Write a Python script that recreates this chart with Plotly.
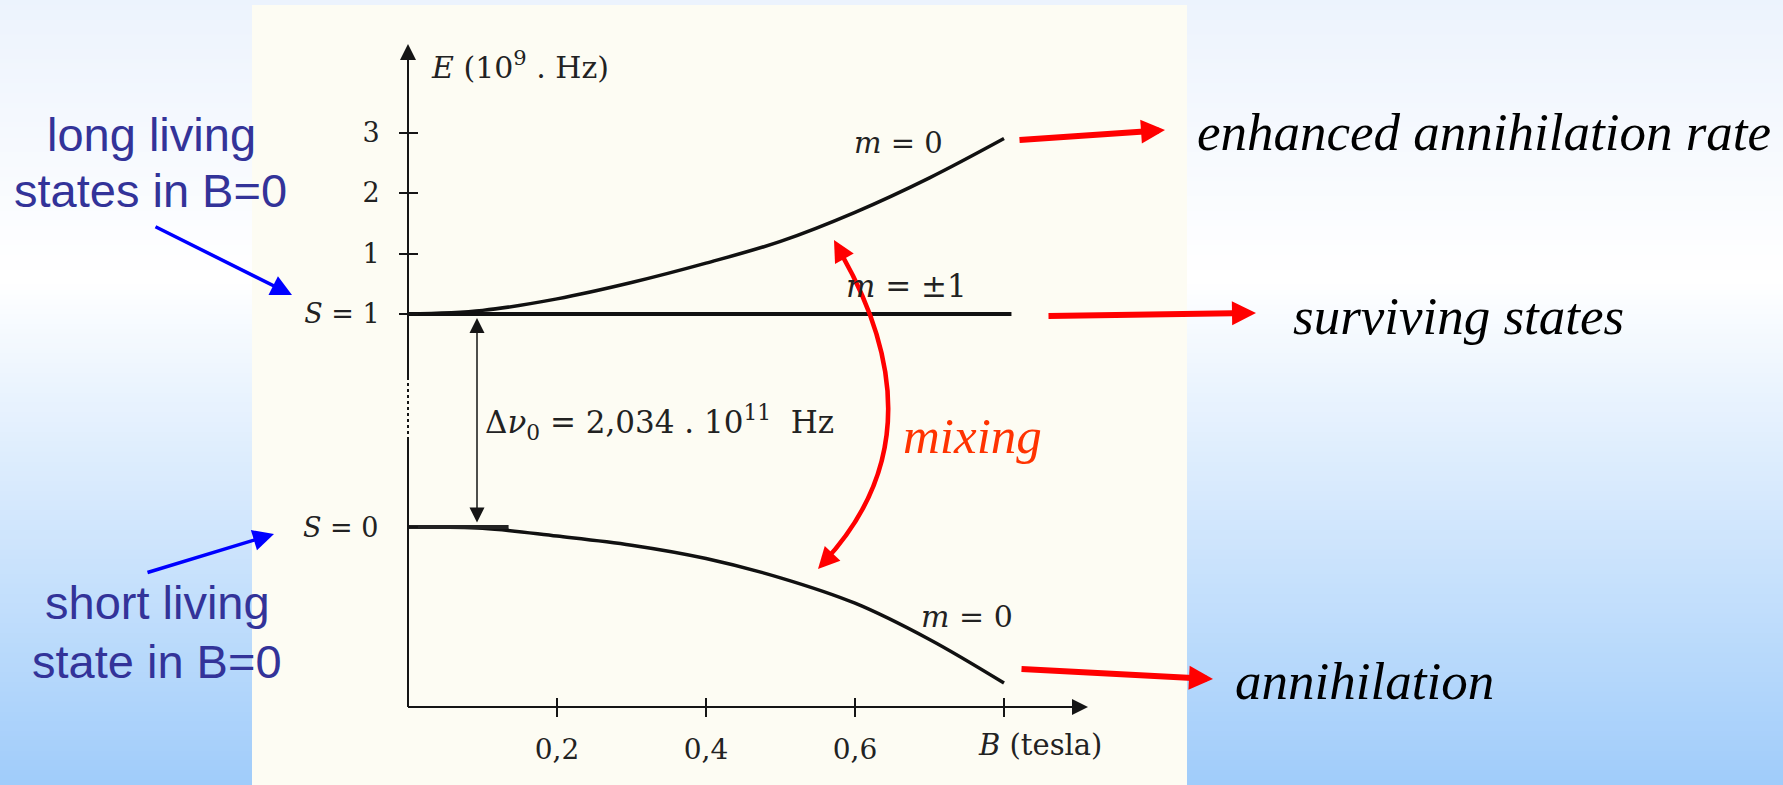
import plotly.graph_objects as go

W, H = 1783, 785

# ---------------- data ----------------
B_VALUES = [0.0, 0.1, 0.2, 0.3, 0.4, 0.5, 0.6, 0.7, 0.8]              # tesla
E_UPPER_M0 = [0.0, 0.06, 0.25, 0.52, 0.84, 1.20, 1.68, 2.25, 2.90]    # GHz above S=1 level
E_LOWER_M0 = [0.0, -0.02, -0.15, -0.30, -0.52, -0.84, -1.26, -1.86, -2.58]  # GHz relative to S=0 level
B_PM1 = [0.0, 0.81]
E_PM1 = [0.0, 0.0]

X_TICKS = [0.2, 0.4, 0.6, 0.8]
X_TICK_LABELS = ["0,2", "0,4", "0,6", ""]
Y_TICKS_UPPER = [0, 1, 2, 3]
Y_TICK_LABELS_UPPER = ["<i>S</i> = 1", "1", "2", "3"]
S0_LABEL = "<i>S</i> = 0"

# ---------------- layout geometry (pixels) ----------------
X0_PX, PX_PER_T = 408.0, 745.0
Y0_PX, PX_PER_GHZ = 314.0, 60.5
S0_PX = 527.0
BREAK = -(S0_PX - Y0_PX) / PX_PER_GHZ          # display position of the S=0 level

x_range = [-X0_PX / PX_PER_T, (W - X0_PX) / PX_PER_T]
y_range = [-(H - Y0_PX) / PX_PER_GHZ, Y0_PX / PX_PER_GHZ]


def px(xp):
    return xp / W


def py(yp):
    return 1 - yp / H


SERIF = "DejaVu Serif"
ITAL = "Liberation Serif"
SANS = "Liberation Sans, Arial"

fig = go.Figure()

lower_display = [BREAK + v for v in E_LOWER_M0]

fig.add_trace(go.Scatter(x=B_PM1, y=E_PM1, mode="lines",
                         line=dict(color="#111111", width=4), hoverinfo="skip"))
fig.add_trace(go.Scatter(x=B_VALUES, y=E_UPPER_M0, mode="lines",
                         line=dict(color="#111111", width=3.5, shape="spline"), hoverinfo="skip"))
fig.add_trace(go.Scatter(x=B_VALUES, y=lower_display, mode="lines",
                         line=dict(color="#111111", width=3.5, shape="spline"), hoverinfo="skip"))
fig.add_trace(go.Scatter(x=[B_VALUES[0], B_VALUES[1] + 0.035], y=[BREAK, BREAK], mode="lines",
                         line=dict(color="#222222", width=4), hoverinfo="skip"))
# invisible trace to keep overlay axes alive
fig.add_trace(go.Scatter(x=[0], y=[0], xaxis="x2", yaxis="y2", mode="markers",
                         marker=dict(opacity=0), hoverinfo="skip"))

shapes = []
# gradient background
top_c = (236, 243, 253)
white = (255, 255, 255)
bot_c = (160, 204, 250)
n = 160
for i in range(n):
    y_a = H * i / n
    y_b = H * (i + 1) / n + 1
    ym = (y_a + y_b) / 2
    if ym < 280:
        t = ym / 280
        c = [top_c[k] + (white[k] - top_c[k]) * t for k in range(3)]
    else:
        t = (ym - 280) / (H - 280)
        c = [white[k] + (bot_c[k] - white[k]) * t for k in range(3)]
    col = "rgb(%d,%d,%d)" % tuple(int(round(v)) for v in c)
    shapes.append(dict(type="rect", xref="paper", yref="paper", layer="below",
                       x0=0, x1=1, y0=py(y_b), y1=py(y_a), fillcolor=col, line=dict(width=0)))
# cream scanned-figure panel
shapes.append(dict(type="rect", xref="paper", yref="paper", layer="below",
                   x0=px(252), x1=px(1187), y0=0, y1=py(5), fillcolor="#fdfcf3", line=dict(width=0)))
# axis lines
ax_col = "#151515"
shapes.append(dict(type="line", xref="paper", yref="paper", x0=px(408), x1=px(408), y0=py(55), y1=py(377),
                   line=dict(color=ax_col, width=2)))
shapes.append(dict(type="line", xref="paper", yref="paper", x0=px(408), x1=px(408), y0=py(377), y1=py(440),
                   line=dict(color=ax_col, width=2, dash="dot")))
shapes.append(dict(type="line", xref="paper", yref="paper", x0=px(408), x1=px(408), y0=py(440), y1=py(707),
                   line=dict(color=ax_col, width=2)))
shapes.append(dict(type="line", xref="paper", yref="paper", x0=px(408), x1=px(1075), y0=py(707), y1=py(707),
                   line=dict(color=ax_col, width=2)))
# red "mixing" curve
shapes.append(dict(type="path", xref="paper", yref="paper",
                   path="M %f,%f Q %f,%f %f,%f" % (px(838), py(248), px(945), py(432), px(824), py(562)),
                   line=dict(color="#ff0000", width=4.5)))


def arrow(tip, tail, color, width, size, head=2, side="end"):
    return dict(x=px(tip[0]), y=py(tip[1]), xref="paper", yref="paper",
                ax=tail[0] - tip[0], ay=tail[1] - tip[1], axref="pixel", ayref="pixel",
                showarrow=True, arrowhead=head, startarrowhead=head, arrowside=side,
                arrowwidth=width, arrowsize=size, startarrowsize=size, arrowcolor=color, text="")


def label(text, xp, yp, size, family, color="black", xanchor="center"):
    return dict(x=px(xp), y=py(yp), xref="paper", yref="paper", text=text, showarrow=False,
                font=dict(size=size, family=family, color=color), xanchor=xanchor, yanchor="middle")


ann = []
# axis arrowheads
ann.append(arrow((408, 44), (408, 64), ax_col, 2, 1.6))
ann.append(arrow((1088, 707), (1068, 707), ax_col, 2, 1.6))
# delta-nu double arrow
ann.append(dict(x=px(477), y=py(318), xref="paper", yref="paper", ax=0, ay=206,
                axref="pixel", ayref="pixel", showarrow=True, arrowhead=2, startarrowhead=2,
                arrowside="end+start", arrowwidth=1.5, arrowsize=2, startarrowsize=2,
                arrowcolor=ax_col, text=""))
# red arrows
ann.append(arrow((1165, 130), (1018, 140), "#ff0000", 6, 0.8))
ann.append(arrow((1256, 313), (1047, 316), "#ff0000", 6, 0.8))
ann.append(arrow((1213, 679), (1020, 669), "#ff0000", 6, 0.8))
# mixing arrowheads
ann.append(arrow((834, 240), (844, 258), "#ff0000", 4.5, 0.95))
ann.append(arrow((818, 569), (832, 554), "#ff0000", 4.5, 0.95))
# blue arrows
ann.append(arrow((292, 295), (154, 226), "#0000ff", 3.5, 1.2))
ann.append(arrow((274, 534), (146, 573), "#0000ff", 3.5, 1.2))

# figure labels
ann.append(label("<i>E</i> (10<sup>9</sup> . Hz)", 429, 66, 30, SERIF, "#222", "left"))
ann.append(label("<i>m</i> = 0", 899, 143, 29, SERIF, "#222"))
ann.append(label("<i>m</i> = ±1", 906, 286, 31, SERIF, "#222"))
ann.append(label("<i>m</i> = 0", 967, 616, 30, SERIF, "#222"))
ann.append(label("Δ<i>ν</i><sub>0</sub> = 2,034 . 10<sup>11</sup>  Hz", 483, 422, 31, SERIF, "#222", "left"))
ann.append(label("<i>B</i> (tesla)", 976, 745, 29, SERIF, "#222", "left"))
ann.append(label(S0_LABEL, 340, 527, 27, SERIF, "#222"))

# slide texts
ann.append(label("<i>enhanced annihilation rate</i>", 1195, 132, 53, ITAL, "black", "left"))
ann.append(label("<i>surviving states</i>", 1291, 316, 53, ITAL, "black", "left"))
ann.append(label("<i>annihilation</i>", 1233, 681, 53, ITAL, "black", "left"))
ann.append(label("<i>mixing</i>", 973, 436, 51, ITAL, "#ff3300"))
ann.append(label("long living", 151, 135, 47, SANS, "#333399"))
ann.append(label("states in B=0", 150, 191, 47, SANS, "#333399"))
ann.append(label("short living", 157, 602, 47, SANS, "#333399"))
ann.append(label("state in B=0", 157, 661, 47, SANS, "#333399"))

tickfont = dict(family=SERIF, size=28, color="#222")
fig.update_layout(
    template="none",
    width=W, height=H, autosize=False,
    margin=dict(l=0, r=0, t=0, b=0, pad=0),
    paper_bgcolor="white", plot_bgcolor="rgba(0,0,0,0)",
    showlegend=False,
    shapes=shapes, annotations=ann,
    xaxis=dict(range=x_range, domain=[0, 1], anchor="free", position=py(707),
               tickvals=X_TICKS, ticktext=X_TICK_LABELS, ticks="outside", ticklen=9,
               tickwidth=2, tickcolor=ax_col, showline=False, showgrid=False, zeroline=False,
               tickfont=tickfont, ticklabelstandoff=8, automargin=False, fixedrange=True),
    xaxis2=dict(range=x_range, domain=[0, 1], overlaying="x", anchor="free", position=py(707),
                tickvals=X_TICKS, ticks="inside", ticklen=9, tickwidth=2, tickcolor=ax_col,
                showticklabels=False, showline=False, showgrid=False, zeroline=False, automargin=False),
    yaxis=dict(range=y_range, domain=[0, 1], anchor="free", position=px(408),
               tickvals=Y_TICKS_UPPER, ticktext=Y_TICK_LABELS_UPPER, ticks="outside", ticklen=9,
               tickwidth=2, tickcolor=ax_col, showline=False, showgrid=False, zeroline=False,
               tickfont=dict(family=SERIF, size=27, color="#222"), ticklabelstandoff=14,
               automargin=False, fixedrange=True),
    yaxis2=dict(range=y_range, domain=[0, 1], overlaying="y", anchor="free", position=px(408),
                tickvals=Y_TICKS_UPPER + [BREAK], ticks="inside", ticklen=9, tickwidth=2,
                tickcolor=ax_col, showticklabels=False, showline=False, showgrid=False,
                zeroline=False, automargin=False),
)

fig.write_html("out.html", config={"displayModeBar": False},
               post_script="document.body.style.margin='0';document.body.style.overflow='hidden';")
